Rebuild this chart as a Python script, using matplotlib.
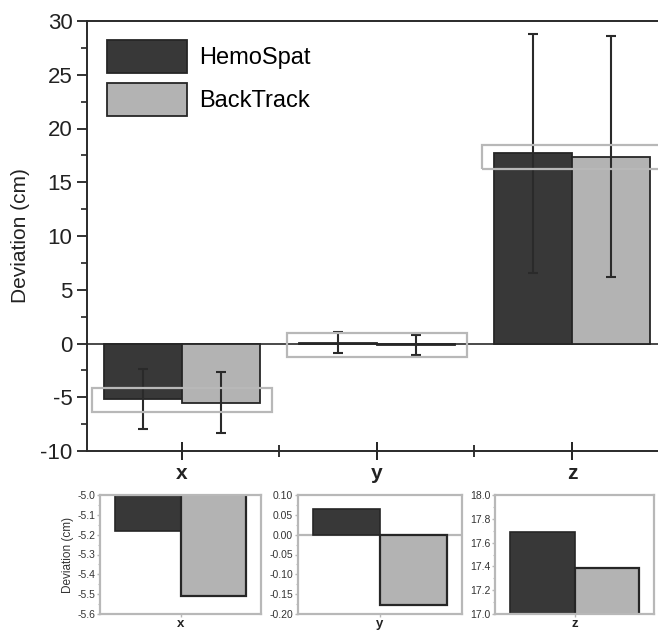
import numpy as np
import matplotlib
matplotlib.use('Agg')
import matplotlib.pyplot as plt
from matplotlib.patches import Rectangle
from matplotlib.ticker import MultipleLocator, FormatStrFormatter

plt.rcParams['font.family'] = ['Liberation Sans', 'DejaVu Sans']
plt.rcParams['axes.unicode_minus'] = False

# data
categories = ['x', 'y', 'z']
series = ['HemoSpat', 'BackTrack']
hemo_mean = [-5.18, 0.065, 17.69]
back_mean = [-5.51, -0.177, 17.39]
hemo_err = [2.8, 0.98, 11.1]
back_err = [2.85, 0.93, 11.2]

# grey boxes marking the zoomed ranges (y bottom, y top)
zoom_boxes = [(-6.37, -4.14), (-1.28, 0.95), (16.23, 18.47)]

# ranges of the three zoom panels
inset_ylims = [(-5.6, -5.0), (-0.20, 0.10), (17.0, 18.0)]
inset_steps = [0.1, 0.05, 0.2]
inset_fmts = ['%.1f', '%.2f', '%.1f']

dark = '#383838'
light = '#b3b3b3'
edge = '#262626'
boxgrey = '#b8b8b8'

W, H = 658, 633
fig = plt.figure(figsize=(W / 100, H / 100), dpi=100)

# main panel
ax = fig.add_axes([87 / W, (H - 451) / H, 2.987 * 195 / W, 430 / H])
xpos = np.arange(len(categories))
bw = 0.4
ax.bar(xpos - bw / 2, hemo_mean, bw, color=dark, edgecolor=edge, lw=1.3,
       label=series[0], zorder=2)
ax.bar(xpos + bw / 2, back_mean, bw, color=light, edgecolor=edge, lw=1.3,
       label=series[1], zorder=2)
ax.errorbar(xpos - bw / 2, hemo_mean, yerr=hemo_err, fmt='none', ecolor='#2a2a2a',
            elinewidth=1.5, capsize=3.8, capthick=1.5, zorder=3)
ax.errorbar(xpos + bw / 2, back_mean, yerr=back_err, fmt='none', ecolor='#2a2a2a',
            elinewidth=1.5, capsize=3.8, capthick=1.5, zorder=3)
ax.axhline(0, color='#2a2a2a', lw=1.2, zorder=1)

for i, (lo, hi) in enumerate(zoom_boxes):
    ax.add_patch(Rectangle((i - 0.46, lo), 0.92, hi - lo, fill=False,
                           edgecolor=boxgrey, lw=1.6, zorder=4))

ax.set_xlim(-0.487, 2.5)
ax.set_ylim(-10, 30)
ax.set_xticks(xpos)
ax.set_xticklabels(categories, fontsize=15, fontweight='bold', color='#222222')
ax.set_xticks(xpos[:-1] + 0.5, minor=True)
ax.yaxis.set_major_locator(MultipleLocator(5))
ax.yaxis.set_minor_locator(MultipleLocator(2.5))
ax.tick_params(axis='y', which='major', direction='out', length=7.5, width=1.3,
               labelsize=16, pad=3, colors='#222222')
ax.tick_params(axis='y', which='minor', direction='out', length=4, width=1.2,
               colors='#222222')
ax.tick_params(axis='x', which='major', direction='inout', length=13, width=1.4,
               pad=3, colors='#222222')
ax.tick_params(axis='x', which='minor', direction='inout', length=8, width=1.3,
               colors='#222222')
for s in ['left', 'bottom', 'top', 'right']:
    ax.spines[s].set_linewidth(1.4)
    ax.spines[s].set_color('#2a2a2a')
ax.set_ylabel('Deviation (cm)', fontsize=15, color='#222222', labelpad=7)

ax.legend(loc='upper left', bbox_to_anchor=(107 / W, 1 - 40 / H),
          bbox_transform=fig.transFigure, frameon=False, fontsize=17,
          handlelength=3.4, handleheight=1.77, handletextpad=0.5,
          labelspacing=0.42, borderpad=0, borderaxespad=0)

# zoom panels
inset_boxes = [(100, 161), (298, 164), (495, 159)]
for i, (left, width) in enumerate(inset_boxes):
    ia = fig.add_axes([left / W, (H - 614) / H, width / W, 119 / H])
    ia.bar(-bw / 2, hemo_mean[i], bw, color=dark, edgecolor=edge, lw=1.2, zorder=2)
    ia.bar(bw / 2, back_mean[i], bw, color=light, edgecolor=edge, lw=1.6, zorder=2)
    ia.axhline(0, color=boxgrey, lw=1.6, zorder=1)
    ia.set_xlim(-0.49, 0.49)
    ia.set_ylim(*inset_ylims[i])
    ia.yaxis.set_major_locator(MultipleLocator(inset_steps[i]))
    ia.yaxis.set_minor_locator(MultipleLocator(inset_steps[i] / 2))
    ia.yaxis.set_major_formatter(FormatStrFormatter(inset_fmts[i]))
    ia.set_xticks([0])
    ia.set_xticklabels([categories[i]], fontsize=9.5, fontweight='bold', color='#222222')
    ia.tick_params(axis='y', which='major', direction='out', length=2.5, width=1,
                   labelsize=7.5, pad=1, colors=boxgrey, labelcolor='#333333')
    ia.tick_params(axis='y', which='minor', direction='out', length=1.5, width=0.8,
                   colors=boxgrey)
    ia.tick_params(axis='x', direction='out', length=2.5, width=1, pad=0.5,
                   colors=boxgrey, labelcolor='#222222')
    for s in ia.spines.values():
        s.set_linewidth(1.6)
        s.set_color(boxgrey)
    if i == 0:
        ia.set_ylabel('Deviation (cm)', fontsize=8.5, color='#333333', labelpad=2)

fig.savefig('out.png', dpi=100)
